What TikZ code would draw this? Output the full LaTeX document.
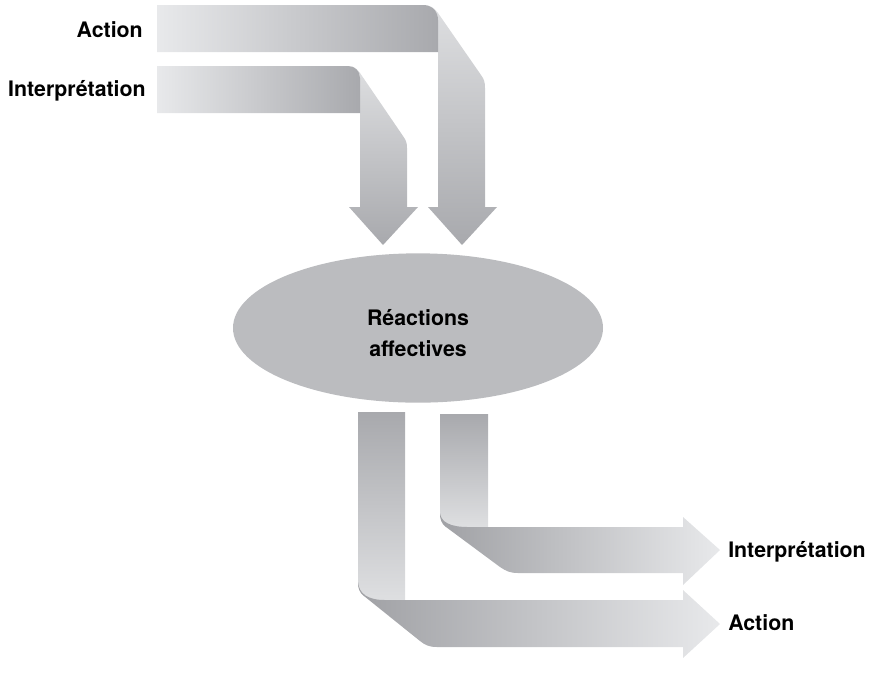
\documentclass[tikz,border=0pt]{standalone}
\usepackage{fontspec}
\setmainfont{TeX Gyre Heros}
\usetikzlibrary{shapes.geometric}
\definecolor{lightg}{HTML}{E8E9EB}
\definecolor{darkg}{HTML}{A8A9AD}
\definecolor{stripg}{HTML}{DEDFE1}
\definecolor{darkf}{HTML}{A0A1A5}
\definecolor{ellg}{HTML}{BBBCBF}
\begin{document}
\begin{tikzpicture}[x=0.75pt,y=-0.75pt,
  lbl/.style={font=\bfseries\fontsize{16}{19}\selectfont, text=black, inner sep=0pt},
  downstrip/.style={top color=stripg, bottom color=darkg},
  inband/.style={left color=lightg, right color=darkg},
  outvert/.style={top color=darkg, bottom color=stripg},
  outband/.style={left color=darkf, right color=lightg}]
\useasboundingbox (0,0) rectangle (873,690);

% ---- top: Action (outer)
\shade[downstrip] (423,5) .. controls (431,5) and (434,8) .. (438,13) -- (481,75)
  .. controls (484,79) and (485,82) .. (485,88) -- (485,207) -- (497,207) -- (462,245)
  -- (428,207) -- (438,207) -- (438,20) .. controls (438,11) and (432,5) .. (423,5) -- cycle;
\shade[inband] (157,5) -- (423,5) .. controls (432,5) and (438,11) .. (438,20)
  -- (438,52) -- (157,52) -- cycle;

% ---- top: Interprétation (inner)
\shade[downstrip] (348,66) .. controls (354,66) and (357,69) .. (360,73) -- (403,136)
  .. controls (406,140) and (407,143) .. (407,148) -- (407,207) -- (418,207) -- (383,245)
  -- (349,207) -- (360,207) -- (360,78) .. controls (360,71) and (355,66) .. (348,66) -- cycle;
\shade[inband] (157,66) -- (348,66) .. controls (355,66) and (360,71) .. (360,78)
  -- (360,113) -- (157,113) -- cycle;

% ---- labels left
\node[lbl, anchor=base east] (inAction) at (143,37) {Action};
\node[lbl, anchor=base east] (inInterp) at (146,96) {Interprétation};

% ---- ellipse
\node[ellipse, fill=ellg, minimum width=277.5pt, minimum height=112pt, inner sep=0pt] (ell) at (418,328) {};
\node[lbl, anchor=base] (t1) at (418,325) {Réactions};
\node[lbl, anchor=base] (t2) at (418,356) {affectives};

% ---- bottom vertical bands (lower-left corner follows the fold)
\shade[outvert] (358,412) -- (405,412) -- (405,600) -- (372,600) -- (364,596)
  .. controls (359,592) and (358,588) .. (358,582) -- cycle;
\shade[outvert] (440,414) -- (488,414) -- (488,527) -- (446,527)
  .. controls (441,523) and (440,519) .. (440,513) -- cycle;

% ---- bottom: Interprétation (inner)
\shade[outband] (440,513) .. controls (441,522) and (450,527) .. (468,527) -- (683,527)
  -- (683,517) -- (720,550) -- (683,585) -- (683,573) -- (518,573)
  .. controls (510,573) and (506,571) .. (500,567) -- (446,527)
  .. controls (441,523) and (440,519) .. (440,513) -- cycle;

% ---- bottom: Action (outer)
\shade[outband] (358,582) .. controls (359,594) and (368,600) .. (385,600) -- (683,600)
  -- (683,590) -- (720,624) -- (683,658) -- (683,647) -- (437,647)
  .. controls (429,647) and (425,645) .. (420,641) -- (364,596)
  .. controls (359,592) and (358,588) .. (358,582) -- cycle;

% ---- labels right
\node[lbl, anchor=base west] (outInterp) at (728,557) {Interprétation};
\node[lbl, anchor=base west] (outAction) at (728,630) {Action};
\end{tikzpicture}
\end{document}
